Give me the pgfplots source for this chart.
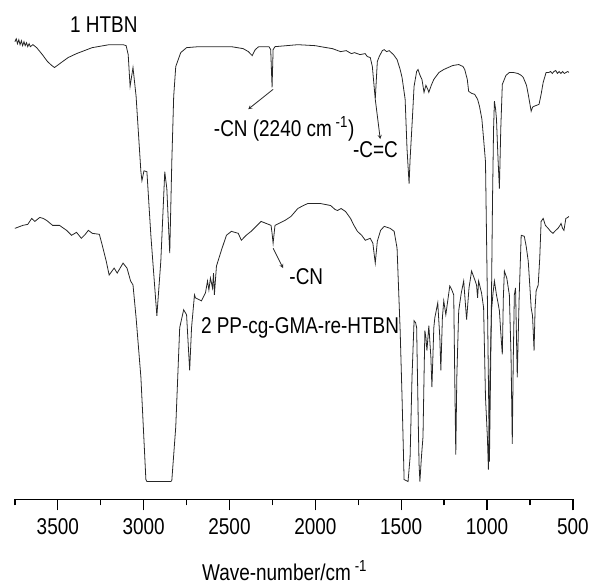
\documentclass[border=0pt]{standalone}
\usepackage{pgfplots}
\pgfplotsset{compat=1.18}
\usepackage{fontspec}
\setmainfont{Liberation Sans}[FakeStretch=0.83]
\newcommand{\lbl}{\fontsize{23}{27}\selectfont}
\begin{document}
\begin{tikzpicture}
\begin{axis}[
  scale only axis, width=562pt, height=468pt,
  x dir=reverse, xmin=500, xmax=3750, ymin=-503, ymax=-35,
  axis x line=bottom, axis y line=none,
  x axis line style={-, line width=1.4pt},
  xtick={3500,3000,2500,2000,1500,1000,500},
  minor xtick={3750,3250,2750,2250,1750,1250,750},
  tick align=outside, major tick length=11pt, minor tick length=6pt,
  every tick/.style={black, line width=1.3pt},
  scaled x ticks=false,
  /pgf/number format/1000 sep={},
  /pgf/number format/assume math mode=true,
  xticklabel style={font=\lbl, yshift=-5pt},
  clip=false,
]
\addplot[black!85, line width=0.8pt] coordinates {
(3750,-42) (3742,-39) (3735,-44) (3727,-40) (3720,-45) (3712,-41) (3705,-46) (3697,-42) (3690,-46) (3682,-43) (3675,-47) (3667,-44) (3660,-47) (3645,-45) (3623,-48)
(3590,-55) (3560,-62) (3535,-66) (3519,-68) (3480,-63) (3440,-58) (3391,-54) (3300,-48) (3201,-45) (3120,-45) (3102,-46)
(3090,-55) (3079,-87) (3062,-68) (3044,-97) (3016,-173) (3010,-182) (2998,-172) (2981,-173) (2958,-237) (2923,-318)
(2900,-263) (2877,-173) (2865,-190) (2848,-255) (2836,-163) (2825,-97) (2813,-67) (2784,-53) (2750,-48) (2680,-47)
(2489,-47) (2420,-49) (2390,-52) (2368,-56) (2350,-50) (2330,-47) (2270,-47) (2260,-50) (2252,-88) (2246,-50) (2235,-47)
(2102,-45) (2000,-46) (1969,-47) (1900,-49) (1853,-52) (1820,-51) (1790,-54) (1772,-53) (1740,-55) (1710,-54) (1697,-57) (1680,-58)
(1668,-67) (1651,-100) (1639,-62) (1628,-57) (1610,-51) (1599,-50) (1585,-52) (1570,-51) (1545,-55) (1524,-60)
(1506,-70) (1495,-78) (1477,-100) (1466,-150) (1454,-185) (1448,-160) (1435,-120) (1425,-87) (1410,-72) (1402,-70)
(1390,-76) (1379,-80) (1367,-93) (1356,-86) (1345,-90) (1339,-93) (1325,-86) (1310,-80) (1280,-73) (1252,-70) (1200,-66) (1165,-65)
(1140,-67) (1130,-70) (1115,-80) (1107,-92) (1090,-94) (1072,-95) (1055,-100) (1044,-107) (1030,-120) (1020,-140) (1009,-163)
(998,-300) (986,-465) (976,-330) (968,-200) (962,-130) (957,-102) (950,-110) (945,-120) (936,-160) (928,-190) (920,-130) (911,-85)
(890,-76) (870,-73) (847,-73) (820,-74) (800,-76) (789,-78) (770,-86) (760,-95) (743,-112) (735,-108) (726,-107) (710,-106)
(697,-105) (685,-95) (673,-83) (656,-73) (640,-73) (630,-72) (620,-74) (610,-72) (600,-71) (590,-74) (580,-72) (570,-74)
(560,-72) (550,-74) (540,-73) (530,-72) (523,-73)
};
\addplot[black!85, line width=0.8pt] coordinates {
(3750,-230) (3704,-227) (3675,-226) (3652,-220) (3634,-223) (3605,-219) (3585,-220) (3565,-222) (3530,-227) (3490,-227)
(3449,-232) (3420,-237) (3391,-234) (3363,-240) (3340,-236) (3322,-232) (3299,-235) (3258,-236) (3241,-247) (3218,-263)
(3201,-277) (3172,-270) (3154,-275) (3120,-265) (3097,-270) (3076,-283) (3062,-287) (3044,-320) (3016,-380) (2987,-483)
(2981,-485) (2842,-485) (2836,-484) (2813,-430) (2790,-330) (2767,-312) (2750,-317) (2732,-373) (2721,-330) (2704,-297)
(2698,-300) (2663,-303) (2640,-295) (2628,-283) (2620,-292) (2611,-280) (2599,-290) (2593,-275) (2588,-297) (2576,-268)
(2547,-252) (2518,-237) (2489,-233) (2449,-235) (2431,-242) (2403,-237) (2374,-233) (2345,-228) (2316,-223) (2287,-225)
(2258,-227) (2252,-235) (2246,-245) (2235,-227) (2200,-224) (2177,-222) (2142,-218) (2102,-210) (2070,-207) (2044,-205)
(1969,-205) (1911,-207) (1885,-211) (1871,-212) (1850,-210) (1824,-213) (1795,-220) (1775,-227) (1755,-233) (1730,-237)
(1709,-242) (1680,-240) (1665,-245) (1651,-265) (1639,-243) (1620,-232) (1599,-228) (1564,-230) (1541,-233) (1524,-250)
(1506,-333) (1495,-400) (1483,-483) (1460,-485) (1448,-460) (1437,-380) (1425,-323) (1416,-325) (1410,-330) (1400,-430)
(1396,-467) (1391,-485) (1382,-460) (1373,-440) (1367,-380) (1362,-333) (1356,-340) (1350,-353) (1339,-328) (1327,-360)
(1321,-390) (1310,-330) (1304,-320) (1287,-305) (1275,-340) (1269,-373) (1260,-320) (1252,-303) (1240,-317) (1217,-288)
(1205,-292) (1194,-297) (1188,-380) (1182,-458) (1176,-380) (1165,-313) (1150,-295) (1136,-283) (1119,-322) (1105,-290)
(1090,-273) (1075,-280) (1061,-287) (1055,-300) (1049,-283) (1032,-295) (1020,-310) (1009,-400) (998,-440) (992,-473)
(983,-380) (974,-313) (965,-295) (957,-283) (945,-297) (936,-305) (928,-313) (918,-340) (911,-357) (905,-300) (899,-273)
(885,-280) (870,-297) (860,-360) (853,-447) (847,-360) (841,-297) (834,-290) (824,-380) (813,-300) (801,-237) (783,-238)
(772,-248) (760,-263) (750,-290) (743,-310) (735,-318) (726,-353) (720,-310) (714,-293) (702,-287) (693,-260) (685,-223)
(673,-220) (660,-227) (644,-230) (630,-233) (616,-235) (600,-232) (587,-230) (575,-227) (569,-225) (560,-230) (552,-232)
(541,-220) (530,-219) (523,-218)
};
\node[anchor=west, font=\lbl] at (axis cs:3449,-25) {1 HTBN};
\node[anchor=west, font=\lbl] at (axis cs:2611,-130) {-CN (2240 cm\,\textsuperscript{-1})};
\node[anchor=west, font=\lbl] at (axis cs:1801,-151) {-C=C};
\node[anchor=west, font=\lbl] at (axis cs:2171,-279) {-CN};
\node[anchor=west, font=\lbl] at (axis cs:2686,-330) {2 PP-cg-GMA-re-HTBN};
\node[anchor=base west, font=\lbl] at (axis cs:2680,-585) {Wave-number/cm\,\textsuperscript{-1}};
\draw[-stealth, black!85, line width=0.8pt] (axis cs:2246,-90) -- (axis cs:2391,-110);
\draw[-stealth, black!85, line width=0.8pt] (axis cs:1651,-100) -- (axis cs:1622,-140);
\draw[-stealth, black!85, line width=0.8pt] (axis cs:2246,-250) -- (axis cs:2188,-270);
\path (axis cs:3836.7,0) rectangle (axis cs:413.2,-590);
\end{axis}
\end{tikzpicture}
\end{document}
